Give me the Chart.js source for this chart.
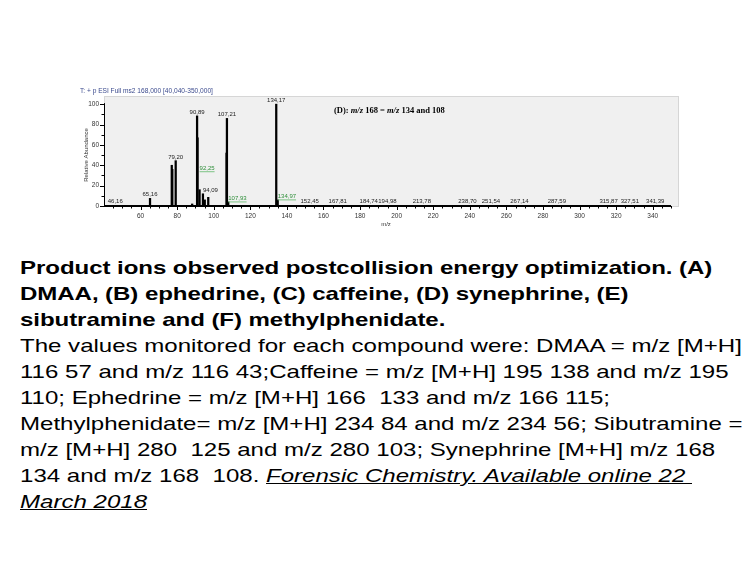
<!DOCTYPE html>
<html>
<head>
<meta charset="utf-8">
<script src="https://cdn.jsdelivr.net/npm/chart.js@4"></script>
<style>
  html, body { margin: 0; padding: 0; background: #fff; }
  body { width: 756px; height: 567px; position: relative; overflow: hidden; }
  #chart { position: absolute; left: 0; top: 0; }
  #caption {
    position: absolute; left: 20px; top: 255px;
    font-family: 'Liberation Sans', Arial, sans-serif;
    font-size: 18.5px; line-height: 26px; color: #000;
    white-space: pre;
    transform: scaleX(1.3); transform-origin: 0 0;
  }
  #caption b { letter-spacing: -0.05px; }
  #caption i { text-decoration: underline; }
</style>
</head>
<body>
<canvas id="chart" width="756" height="245"></canvas>
<div id="caption"><b>Product ions observed postcollision energy optimization. (A)
DMAA, (B) ephedrine, (C) caffeine, (D) synephrine, (E)
sibutramine and (F) methylphenidate.</b>
The values monitored for each compound were: DMAA = m/z [M+H]
116 57 and m/z 116 43;Caffeine = m/z [M+H] 195 138 and m/z 195
110; Ephedrine = m/z [M+H] 166  133 and m/z 166 115;
Methylphenidate= m/z [M+H] 234 84 and m/z 234 56; Sibutramine =
m/z [M+H] 280  125 and m/z 280 103; Synephrine [M+H] m/z 168
134 and m/z 168  108. <i>Forensic Chemistry. Available online 22 </i>
<i>March 2018</i></div>
<script>
// ── Spectrum data ────────────────────────────────────────────
const peakMz    = [46.16, 65.16, 77.05, 77.35, 79.20, 88.2, 90.89, 91.15, 92.25, 94.09, 95.1, 97.0,
                   107.0, 107.21, 107.93, 134.17, 134.97,
                   152.45, 167.81, 184.74, 194.98, 213.78, 238.70, 251.54, 267.14, 287.59, 315.87, 327.51, 341.39];
const peakAbund = [0.6, 7.5, 40, 36, 44.5, 2, 88.5, 67, 16, 12, 6, 8.5,
                   52, 86, 4, 100, 6,
                   0.6, 0.6, 0.6, 0.6, 0.6, 0.6, 0.6, 0.6, 0.6, 0.6, 0.6, 0.6];
const peakLabels = ['46,16', '65,16', '79,20', '90,89', '92,25', '94,09', '107,21', '107,93', '134,17', '134,97',
                    '152,45', '167,81', '184,74', '194,98', '213,78', '238,70', '251,54', '267,14',
                    '287,59', '315,87', '327,51', '341,39'];
const xTicks = [60, 80, 100, 120, 140, 160, 180, 200, 220, 240, 260, 280, 300, 320, 340];
const yTicks = [0, 20, 40, 60, 80, 100];

const scanTitle  = 'T: + p ESI Full ms2 168,000 [40,040-350,000]';
const yTitle     = 'Relative Abundance';
const xTitle     = 'm/z';
const noteParts  = [['(D): ', false], ['m/z', true], [' 168 = ', false], ['m/z', true], [' 134 and 108', false]];

// ── Helpers ──────────────────────────────────────────────────
const labelMz = t => parseFloat(t.replace(',', '.'));
const abundAt = mz => {
  let best = 0, bestD = 1e9;
  peakMz.forEach((m, i) => { const d = Math.abs(m - mz); if (d < bestD) { bestD = d; best = peakAbund[i]; } });
  return best;
};

// ── Custom drawing: plot frame, minor ticks, labels, titles ──
const spectrumDecor = {
  id: 'spectrumDecor',
  beforeDatasetsDraw(chart) {
    const { ctx, chartArea: a } = chart;
    ctx.save();
    ctx.fillStyle = '#f0f0f0';
    ctx.strokeStyle = '#d6d6d6';
    ctx.lineWidth = 1;
    ctx.fillRect(a.left, a.top, a.right - a.left + 8, a.bottom - a.top);
    ctx.strokeRect(a.left + 0.5, a.top + 0.5, a.right - a.left + 7, a.bottom - a.top);
    ctx.restore();
  },
  afterDraw(chart) {
    const { ctx, chartArea: a, scales: { x, y } } = chart;
    ctx.save();

    // axes
    ctx.strokeStyle = '#000';
    ctx.lineWidth = 2;
    ctx.beginPath();
    ctx.moveTo(a.left, a.bottom); ctx.lineTo(x.getPixelForValue(350), a.bottom);
    ctx.stroke();
    ctx.lineWidth = 1;
    ctx.beginPath();
    ctx.moveTo(a.left + 0.5, a.bottom); ctx.lineTo(a.left + 0.5, y.getPixelForValue(100) - 1);
    ctx.stroke();

    // ticks (major + minor)
    ctx.beginPath();
    for (let v = 45; v <= 350; v += 5) {
      const px = Math.round(x.getPixelForValue(v)) + 0.5;
      ctx.moveTo(px, a.bottom); ctx.lineTo(px, a.bottom + (v % 20 === 0 ? 4 : 2.5));
    }
    for (let v = 0; v <= 100; v += 10) {
      const py = Math.round(y.getPixelForValue(v)) + 0.5;
      ctx.moveTo(a.left, py); ctx.lineTo(a.left - (v % 20 === 0 ? 4 : 2.5), py);
    }
    ctx.stroke();

    // tick labels
    ctx.fillStyle = '#333';
    ctx.font = '6.5px "Liberation Sans", Arial, sans-serif';
    ctx.textAlign = 'center'; ctx.textBaseline = 'middle';
    xTicks.forEach(v => ctx.fillText(String(v), x.getPixelForValue(v), a.bottom + 10));
    ctx.textAlign = 'right';
    yTicks.forEach(v => ctx.fillText(String(v), a.left - 5, y.getPixelForValue(v)));

    // axis titles
    ctx.font = '6px "Liberation Sans", Arial, sans-serif';
    ctx.textAlign = 'center';
    ctx.fillText(xTitle, 386, a.bottom + 18);
    ctx.save();
    ctx.translate(a.left - 18, (a.top + a.bottom) / 2 + 4);
    ctx.rotate(-Math.PI / 2);
    ctx.fillText(yTitle, 0, 0);
    ctx.restore();

    // scan header
    ctx.fillStyle = '#3c4b8e';
    ctx.font = '6.6px "Liberation Sans", Arial, sans-serif';
    ctx.textAlign = 'left';
    ctx.fillText(scanTitle, 80, a.top - 5);

    // compound note
    ctx.fillStyle = '#000';
    let nx = 334;
    noteParts.forEach(([t, it]) => {
      ctx.font = (it ? 'italic ' : '') + 'bold 8.5px "Liberation Serif", "Times New Roman", serif';
      ctx.fillText(t, nx, 111);
      nx += ctx.measureText(t).width;
    });

    // peak labels: black first, then green neighbour labels, bumped up on overlap
    ctx.font = '6px "Liberation Sans", Arial, sans-serif';
    ctx.textBaseline = 'alphabetic';
    const placed = [];
    const items = peakLabels.map(t => {
      const mz = labelMz(t);
      const left = peakLabels.map(labelMz).filter(m => m < mz && mz - m < 2.5);
      const near = left.length ? mz - Math.max(...left) : 99;
      return { t, mz, green: near < 1.5, leftAlign: near < 2.5 };
    });
    const order = items.filter(i => !i.green).concat(items.filter(i => i.green));
    order.forEach(it => {
      const px = x.getPixelForValue(it.mz);
      const w = ctx.measureText(it.t).width;
      const x0 = it.leftAlign ? px : px - w / 2;
      let base = y.getPixelForValue(abundAt(it.mz)) - 2;
      const hits = b => placed.some(p => x0 < p.x1 && x0 + w > p.x0 && b - 6 < p.b && b > p.b - 6);
      if (it.green) while (hits(base)) base -= 18;
      placed.push({ x0, x1: x0 + w, b: base });
      ctx.fillStyle = it.green ? '#2f8f3a' : '#222';
      ctx.fillText(it.t, x0, base);
      if (it.green) {
        ctx.strokeStyle = '#5fb86a'; ctx.lineWidth = 0.8;
        ctx.beginPath(); ctx.moveTo(x0, base + 2); ctx.lineTo(x0 + w, base + 2); ctx.stroke();
      }
    });
    ctx.restore();
  }
};

new Chart(document.getElementById('chart'), {
  type: 'bar',
  data: {
    datasets: [{
      data: peakMz.map((m, i) => ({ x: m, y: peakAbund[i] })),
      backgroundColor: '#000',
      barThickness: 1.6
    }]
  },
  options: {
    responsive: false,
    animation: false,
    layout: { padding: { left: 78, top: 96, right: 85, bottom: 17 } },
    plugins: { legend: { display: false }, tooltip: { enabled: false } },
    scales: {
      x: {
        type: 'linear', min: 40, max: 350, offset: false,
        grid: { display: false, offset: false }, border: { display: false },
        ticks: { display: false },
        afterFit: s => { s.height = 22; }
      },
      y: {
        min: 0, max: 108,
        grid: { display: false }, border: { display: false },
        ticks: { display: false },
        afterFit: s => { s.width = 26; }
      }
    }
  },
  plugins: [spectrumDecor]
});
</script>
</body>
</html>
